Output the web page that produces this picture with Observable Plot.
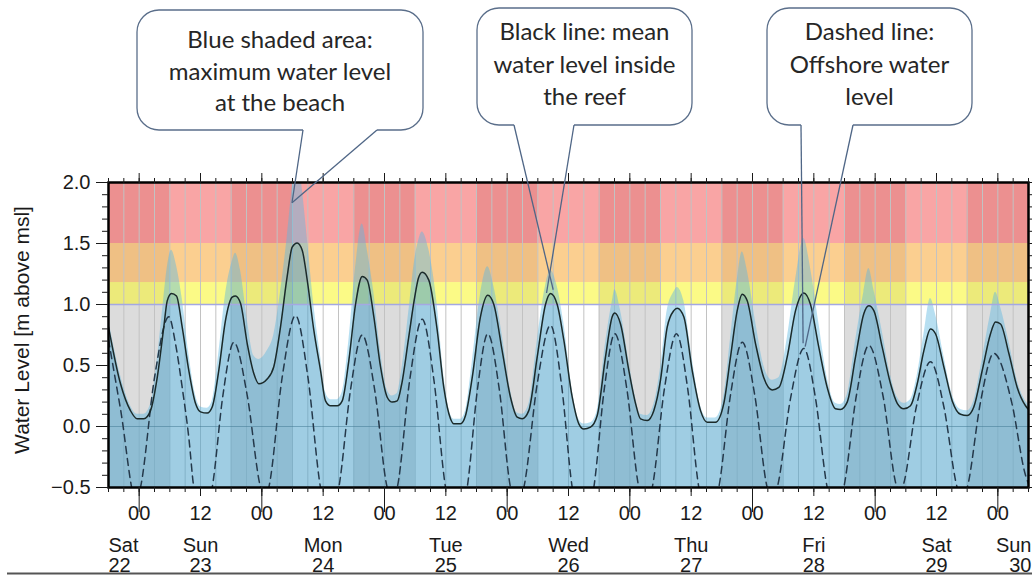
<!DOCTYPE html>
<html>
<head>
<meta charset="utf-8">
<script src="https://cdn.jsdelivr.net/npm/d3@7"></script>
<script src="https://cdn.jsdelivr.net/npm/@observablehq/plot@0.6"></script>
<style>
html, body { margin: 0; padding: 0; background: #fff; }
#chart { width: 1032px; height: 576px; overflow: hidden; position: relative; }
</style>
</head>
<body>
<div id="chart"></div>
<script>
// ---- DATA (hours counted from Sat 22, 18:00) ----
const meanHours = [0,2.35,4.30,5.62,6.91,8.22,9.53,10.82,11.49,12.33,13.30,14.42,15.71,17.02,18.0,19.31,20.29,21.58,22.89,24.20,24.85,25.83,27.14,28.43,29.41,31.05,32.34,33.65,34.96,35.94,36.92,37.90,38.88,40.17,41.48,42.46,43.44,44.75,45.73,47.02,48.33,49.64,50.62,51.91,53.22,54.53,55.51,56.49,57.33,58.70,59.87,60.66,61.38,62.67,64.31,65.60,66.91,67.56,68.87,69.85,71.16,72.78,74.21,75.39,77.03,78.65,79.97,80.94,82.23,83.88,85.50,86.48,87.79,89.08,90.73,92.02,93.0,94.31,95.62,97.24,98.55,99.06,100.18,101.80,103.11,104.09,105.40,106.69,108.0,109.31,110.60,111.27,112.56,114.20,115.83,117.14,118.76,120.39,121.70,123.01,123.99,124.97,126.59,128.21,129.86,131.15,132.79,134.42,136.04,137.35,138.97,140.62,142.24,143.22,144.53,146.16,147.78,148.76,149.74,151.38,153.01,154.32,155.61,156.92,158.23,159.52,160.83,161.81,163.43,165.08,166.70,168.01,169.30,170.95,172.57,173.55,174.53,176.15,177.79,179.42,180.0];
// mean water level inside the reef (black line)
const meanLevel = [0.815,0.35,0.13,0.063,0.063,0.13,0.40,0.815,1.03,1.09,1.07,0.815,0.46,0.19,0.12,0.11,0.16,0.46,0.87,1.06,1.07,1.01,0.68,0.435,0.35,0.39,0.49,0.815,1.23,1.47,1.505,1.445,1.2,0.79,0.46,0.21,0.17,0.17,0.21,0.54,1.0,1.23,1.2,0.90,0.49,0.24,0.20,0.21,0.34,0.72,1.05,1.22,1.265,1.2,0.79,0.32,0.063,0.022,0.022,0.09,0.40,0.90,1.075,1.0,0.62,0.24,0.076,0.063,0.13,0.57,1.0,1.09,1.0,0.71,0.24,0.022,-0.02,-0.005,0.09,0.57,0.90,0.93,0.84,0.46,0.19,0.063,0.05,0.13,0.38,0.815,0.95,0.97,0.90,0.46,0.13,0.035,0.035,0.19,0.57,0.95,1.085,1.03,0.68,0.40,0.30,0.32,0.57,0.95,1.095,1.0,0.65,0.32,0.145,0.14,0.2,0.57,0.925,0.99,0.95,0.65,0.35,0.19,0.145,0.17,0.35,0.62,0.80,0.76,0.49,0.21,0.10,0.09,0.16,0.46,0.76,0.856,0.84,0.60,0.32,0.17,0.14];
// maximum water level at the beach (blue shaded area)
const maxLevel = [0.88,0.42,0.17,0.10,0.10,0.18,0.55,1.05,1.30,1.445,1.32,1.05,0.60,0.26,0.16,0.15,0.21,0.60,1.08,1.35,1.42,1.28,0.88,0.58,0.55,0.62,0.75,1.10,1.55,1.95,2.25,1.95,1.55,1.0,0.58,0.28,0.22,0.22,0.28,0.70,1.30,1.66,1.45,1.10,0.62,0.30,0.25,0.27,0.45,0.92,1.35,1.52,1.595,1.45,1.0,0.42,0.10,0.06,0.06,0.13,0.52,1.08,1.31,1.15,0.75,0.30,0.11,0.10,0.18,0.70,1.15,1.28,1.15,0.85,0.30,0.06,0.02,0.03,0.13,0.68,1.02,1.12,0.95,0.54,0.24,0.10,0.09,0.18,0.48,0.95,1.10,1.14,1.03,0.56,0.17,0.07,0.07,0.25,0.72,1.20,1.43,1.28,0.86,0.50,0.38,0.40,0.72,1.20,1.54,1.30,0.85,0.40,0.19,0.18,0.26,0.70,1.10,1.295,1.12,0.78,0.42,0.24,0.19,0.22,0.42,0.75,1.05,0.92,0.58,0.26,0.14,0.13,0.21,0.55,0.92,1.10,0.98,0.70,0.38,0.21,0.18];
// offshore water level (dashed line)
const offHours = [0,2.32,5.48,6.26,9.0,11.80,13.10,14.42,15.71,16.69,18.49,20.29,22.40,24.52,27.12,29.74,30.52,31.36,33.97,36.59,39.03,41.48,43.24,45.06,47.35,49.64,52.08,54.53,55.51,56.49,58.93,61.38,63.67,65.94,68.05,70.18,72.20,74.21,76.44,78.65,79.97,81.26,83.88,86.48,88.61,90.73,92.84,94.95,97.01,99.06,101.41,103.76,105.07,106.38,108.77,111.13,113.32,115.50,117.45,119.41,121.70,123.99,126.43,128.88,129.86,130.84,133.44,136.04,138.33,140.62,142.24,143.86,146.31,148.76,151.54,154.32,154.81,155.30,158.05,160.83,163.45,166.05,167.03,168.01,170.61,173.21,176.7,179.42,180];
const offLevel = [0.71,0.15,-0.62,-0.5,0.40,0.90,0.68,0.32,-0.09,-0.5,-0.75,-0.5,0.26,0.69,0.26,-0.5,-0.6,-0.5,0.40,0.91,0.40,-0.5,-0.75,-0.5,0.30,0.75,0.30,-0.5,-0.6,-0.5,0.38,0.88,0.38,-0.5,-0.8,-0.5,0.31,0.76,0.31,-0.5,-0.65,-0.5,0.35,0.83,0.35,-0.5,-0.8,-0.5,0.31,0.76,0.31,-0.5,-0.65,-0.5,0.31,0.76,0.31,-0.5,-0.75,-0.5,0.26,0.69,0.26,-0.5,-0.6,-0.5,0.23,0.64,0.23,-0.5,-0.7,-0.5,0.25,0.665,0.25,-0.5,-0.52,-0.5,0.16,0.53,0.16,-0.5,-0.6,-0.5,0.20,0.60,0.20,-0.40,-0.47];
// night periods (18:00 - 06:00)
const nightStartHours = [0,24,48,72,96,120,144,168];
// warning bands
const bandLo = [-0.5, 1.0, 1.18, 1.5];
const bandHi = [1.0, 1.18, 1.5, 2.0];
const bandDay = ["#ffffff", "#fbfa86", "#fbcf90", "#f9a5a5"];
const bandNight = ["#dcdcdc", "#ecea7a", "#efc084", "#ec9090"];
// axis labels
const dayNames = ["Sat","Sun","Mon","Tue","Wed","Thu","Fri","Sat","Sun"];
const dayNumbers = ["22","23","24","25","26","27","28","29","30"];
const hourLabels = ["00","12"];
const yMajor = [-0.5, 0, 0.5, 1.0, 1.5, 2.0];
const yTitle = "Water Level [m above msl]";
const callouts = [
  {lines: ["Blue shaded area:", "maximum water level", "at the beach"], box: [137, 10, 423, 130], base: [48, 80, 111], tail: [303, 377], tips: [[36.0, 1.83], [36.0, 1.83]]},
  {lines: ["Black line: mean", "water level inside", "the reef"], box: [477, 8, 692, 125], base: [40, 73, 105], tail: [514, 574], tips: [[87.1, 1.117], [85.8, 1.09]]},
  {lines: ["Dashed line:", "Offshore water", "level"], box: [767, 8, 972, 125], base: [40, 73, 105], tail: [801, 853], tips: [[136.0, 0.679], [136.4, 0.651]]}
];

// ---- BUILD ----
const H = 3600e3;
const t0 = Date.UTC(2017, 3, 22, 18);
const T = h => new Date(t0 + h * H);
const xStart = T(0), xEnd = T(180);

const series = meanHours.map((h, i) => ({t: T(h), mean: meanLevel[i], max: maxLevel[i]}));
const off = offHours.map((h, i) => ({t: T(h), v: offLevel[i]}));
const bands = bandLo.map((lo, i) => ({lo, hi: bandHi[i], fill: bandDay[i]}));
const nightRects = nightStartHours.flatMap(h => bandLo.map((lo, i) => ({t1: T(h), t2: T(Math.min(h + 12, 180)), lo, hi: bandHi[i], fill: bandNight[i]})));
const minorTimes = d3.range(0, 181, 3).map(T);
const halfDayTimes = d3.range(6, 181, 12).map(T);
const midnightTimes = d3.range(6, 181, 24).map(T);
const halfDayLabels = d3.range(6, 181, 12).map((h, i) => ({t: T(h), label: hourLabels[i % 2]}));
const days = dayNames.map((n, i) => {
  const h = -6 + 24 * i;
  return {label: n + "\n" + dayNumbers[i], h, t: T(Math.max(0, Math.min(180, h)))};
});
const yMinor = d3.range(-5, 21).map(k => k / 10);
const fmtY = v => (v < 0 ? "\u2212" : "") + Math.abs(v).toFixed(1);
const noFmt = () => "";
const dayText = {x: "t", text: "label", frameAnchor: "bottom", dy: 84, lineAnchor: "bottom", lineHeight: 1.0, fontSize: 20, fill: "#1a1a1a"};

const plot = Plot.plot({
  width: 1032,
  height: 576,
  marginLeft: 108,
  marginRight: 4,
  marginTop: 182,
  marginBottom: 89,
  x: {type: "utc", domain: [xStart, xEnd]},
  y: {domain: [-0.5, 2.0]},
  color: {type: "identity"},
  style: {fontFamily: "'Liberation Sans', Arial, sans-serif", fontSize: "20px", color: "#1a1a1a", background: "white", overflow: "visible"},
  marks: [
    Plot.rect(bands, {x1: () => xStart, x2: () => xEnd, y1: "lo", y2: "hi", fill: "fill"}),
    Plot.rect(nightRects, {x1: "t1", x2: "t2", y1: "lo", y2: "hi", fill: "fill"}),
    Plot.ruleX(minorTimes, {stroke: "#c2c2c2", strokeWidth: 1}),
    Plot.areaY(series, {x: "t", y1: () => -0.5, y2: "max", fill: "rgb(95,185,225)", fillOpacity: 0.45, curve: "monotone-x", clip: true}),
    Plot.areaY(series, {x: "t", y1: () => -0.5, y2: "mean", fill: "rgb(40,120,160)", fillOpacity: 0.17, curve: "monotone-x", clip: true}),
    Plot.ruleY([0], {stroke: "#3d7590", strokeOpacity: 0.5}),
    Plot.ruleY([1], {stroke: "#a4a8e2", strokeWidth: 1.5}),
    Plot.line(off, {x: "t", y: "v", stroke: "#24384a", strokeWidth: 1.5, strokeDasharray: "7,5", curve: "monotone-x", clip: true}),
    Plot.line(series, {x: "t", y: "mean", stroke: "#1b2a2a", strokeWidth: 1.5, curve: "monotone-x", clip: true}),
    Plot.frame({stroke: "#000", strokeWidth: 2.5}),
    Plot.axisX({anchor: "bottom", ticks: minorTimes, tickSize: 5, tickFormat: noFmt, label: null}),
    Plot.axisX({anchor: "bottom", ticks: halfDayTimes, tickSize: 9, tickFormat: noFmt, label: null}),
    Plot.axisX({anchor: "bottom", ticks: midnightTimes, tickSize: 25, tickFormat: noFmt, label: null}),
    Plot.axisX({anchor: "top", ticks: minorTimes, tickSize: 5, tickFormat: noFmt, label: null}),
    Plot.axisX({anchor: "top", ticks: halfDayTimes, tickSize: 10, tickFormat: noFmt, label: null}),
    Plot.axisY({anchor: "left", ticks: yMinor, tickSize: 6, tickFormat: noFmt, label: null}),
    Plot.axisY({anchor: "left", ticks: yMajor, tickSize: 12, tickFormat: noFmt, label: null}),
    Plot.axisY({anchor: "right", ticks: yMinor, tickSize: 6, tickFormat: noFmt, label: null}),
    Plot.axisY({anchor: "right", ticks: yMajor, tickSize: 12, tickFormat: noFmt, label: null}),
    Plot.text(halfDayLabels, {x: "t", text: "label", frameAnchor: "bottom", dy: 32, lineAnchor: "bottom", fontSize: 20, fill: "#1a1a1a"}),
    Plot.text(days.filter(d => d.h < 0), {...dayText, textAnchor: "start"}),
    Plot.text(days.filter(d => d.h >= 0 && d.h <= 180), {...dayText}),
    Plot.text(days.filter(d => d.h > 180), {...dayText, textAnchor: "end", dx: 3}),
    Plot.text(yMajor, {y: d => d, text: fmtY, frameAnchor: "left", dx: -18, textAnchor: "end", fontSize: 20, fill: "#1a1a1a"})
  ]
});

document.getElementById("chart").appendChild(plot);

// ---- ANNOTATIONS (overlay using the plot's scales) ----
const sx = plot.scale("x"), sy = plot.scale("y");
const svg = d3.select(plot);

svg.append("text")
  .attr("transform", "translate(21,330) rotate(-90)")
  .attr("text-anchor", "middle")
  .attr("dominant-baseline", "central")
  .attr("font-family", "'Liberation Sans', Arial, sans-serif")
  .attr("font-size", 21)
  .attr("fill", "#1a1a1a")
  .text(yTitle);

const g = svg.append("g");
for (const c of callouts) {
  const [bx0, by0, bx1, by1] = c.box;
  const r = 22;
  const [tl, tr] = c.tail;
  const p = `M${tl},${by1} H${bx0 + r} A${r},${r} 0 0 1 ${bx0},${by1 - r} V${by0 + r} A${r},${r} 0 0 1 ${bx0 + r},${by0} H${bx1 - r} A${r},${r} 0 0 1 ${bx1},${by0 + r} V${by1 - r} A${r},${r} 0 0 1 ${bx1 - r},${by1} H${tr}`;
  g.append("path").attr("d", p).attr("fill", "#fff").attr("stroke", "#5a6e8a").attr("stroke-width", 1.3);
  const a = c.tips[0], b = c.tips[1];
  g.append("line").attr("x1", tl).attr("y1", by1).attr("x2", sx.apply(T(a[0]))).attr("y2", sy.apply(a[1]))
    .attr("stroke", "#4f6686").attr("stroke-width", 1.3);
  g.append("line").attr("x1", tr).attr("y1", by1).attr("x2", sx.apply(T(b[0]))).attr("y2", sy.apply(b[1]))
    .attr("stroke", "#4f6686").attr("stroke-width", 1.3);
  c.lines.forEach((s, i) => {
    g.append("text").attr("x", (bx0 + bx1) / 2).attr("y", c.base[i])
      .attr("text-anchor", "middle")
      .attr("font-family", "Lato, 'Open Sans', sans-serif")
      .attr("font-size", 24)
      .attr("fill", "#262626")
      .text(s);
  });
}

svg.append("line").attr("x1", 7).attr("x2", 1032).attr("y1", 573.5).attr("y2", 573.5)
  .attr("stroke", "#555").attr("stroke-width", 2);
</script>
</body>
</html>
